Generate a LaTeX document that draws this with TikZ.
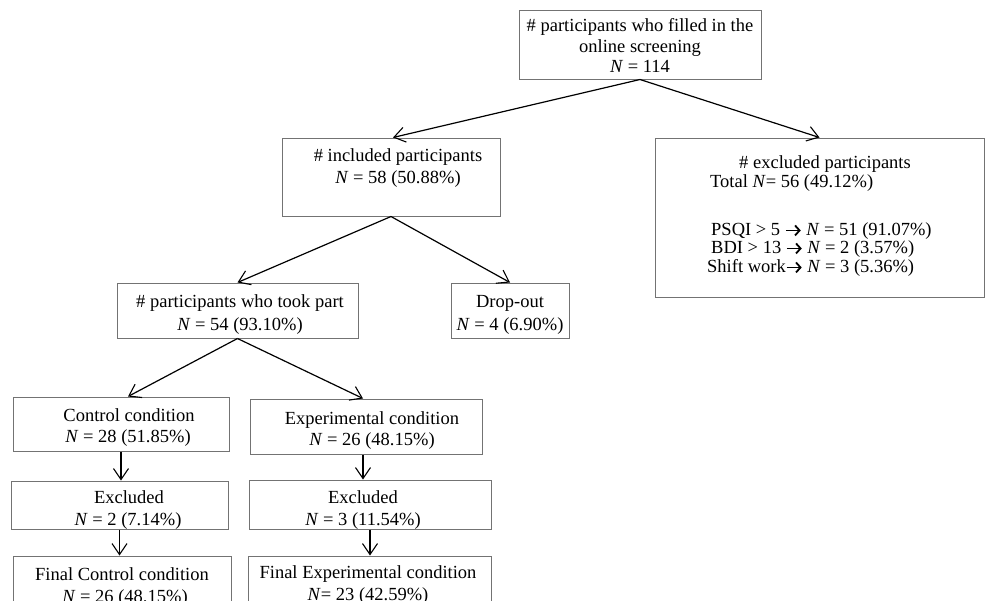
\documentclass[tikz,border=0pt]{standalone}
\usepackage{fontspec}
\setmainfont{Liberation Serif}
\usetikzlibrary{arrows.meta}
\newcommand{\myarrow}{\tikz[baseline=0pt,x=1pt,y=1pt]\draw[black,line width=1.8pt,-{Straight Barb[length=4.5pt,width=10pt,line width=1.8pt]}] (0,4.8) -- (15,4.8);}
\begin{document}
\begin{tikzpicture}[x=1pt,y=-1pt,
  box/.style={draw=black!55, line width=1pt, inner sep=0pt, fill=none},
  lbl/.style={inner sep=0pt, text height=12.5pt, text depth=0pt, font=\fontsize{18.5}{21.5}\selectfont},
  conn/.style={draw=black, line width=1.2pt, -{Straight Barb[length=11pt,width=15pt,line width=1.1pt]}}
]
\useasboundingbox (0,0) rectangle (985,600);
\clip (0,0) rectangle (985,600);
\fill[white] (0,0) rectangle (985,600);
% boxes
\node[box, minimum width=242pt, minimum height=69pt] (top) at (640,44.5) {};
\node[box, minimum width=218pt, minimum height=78pt] (incl) at (391,177) {};
\node[box, minimum width=329pt, minimum height=159pt] (excl) at (819.5,217.5) {};
\node[box, minimum width=241pt, minimum height=55pt] (took) at (237.5,310.5) {};
\node[box, minimum width=118pt, minimum height=55pt] (drop) at (510,310.5) {};
\node[box, minimum width=216pt, minimum height=54pt] (ctrl) at (121,424) {};
\node[box, minimum width=232pt, minimum height=55pt] (expc) at (366,426.5) {};
\node[box, minimum width=217pt, minimum height=48pt] (cexc) at (119.5,505) {};
\node[box, minimum width=242pt, minimum height=49pt] (eexc) at (370,504.5) {};
\node[box, minimum width=218pt, minimum height=64pt] (cfin) at (122,588) {};
\node[box, minimum width=243pt, minimum height=64pt] (efin) at (369.5,588) {};
% texts
\node[lbl] (t1a) at (640,25) {\# participants who filled in the};
\node[lbl] (t1b) at (640,46) {online screening};
\node[lbl] (t1c) at (640,66) {\textit{N} = 114};
\node[lbl] (t2a) at (398,155) {\# included participants};
\node[lbl] (t2b) at (398,177) {\textit{N} = 58 (50.88\%)};
\node[lbl] (t3a) at (825,162) {\# excluded participants};
\node[lbl, anchor=west] (t3b) at (710,181) {Total \textit{N}= 56 (49.12\%)};
\node[lbl, anchor=west] (t3c) at (711,229) {PSQI > 5 \myarrow\ \textit{N} = 51 (91.07\%)};
\node[lbl, anchor=west] (t3d) at (711,247) {BDI > 13 \myarrow\ \textit{N} = 2 (3.57\%)};
\node[lbl, anchor=west] (t3e) at (707,266) {Shift work\myarrow\ \textit{N} = 3 (5.36\%)};
\node[lbl] (t4a) at (240,301) {\# participants who took part};
\node[lbl] (t4b) at (240,324) {\textit{N} = 54 (93.10\%)};
\node[lbl] (t5a) at (510,301) {Drop-out};
\node[lbl] (t5b) at (510,324) {\textit{N} = 4 (6.90\%)};
\node[lbl] (t6a) at (129,415) {Control condition};
\node[lbl] (t6b) at (128,436) {\textit{N} = 28 (51.85\%)};
\node[lbl] (t7a) at (372,418) {Experimental condition};
\node[lbl] (t7b) at (372,439) {\textit{N} = 26 (48.15\%)};
\node[lbl] (t8a) at (129,497) {Excluded};
\node[lbl] (t8b) at (128,519) {\textit{N} = 2 (7.14\%)};
\node[lbl] (t9a) at (363,497) {Excluded};
\node[lbl] (t9b) at (363,519) {\textit{N} = 3 (11.54\%)};
\node[lbl] (t10a) at (122,574) {Final Control condition};
\node[lbl] (t10b) at (125,596) {\textit{N} = 26 (48.15\%)};
\node[lbl] (t11a) at (368,572) {Final Experimental condition};
\node[lbl] (t11b) at (368,594) {\textit{N}= 23 (42.59\%)};
% connectors
\draw[conn] (top.south) -- ([xshift=2pt]incl.north);
\draw[conn] (top.south) -- (excl.north);
\draw[conn] (incl.south) -- (took.north);
\draw[conn] (incl.south) -- (drop.north);
\draw[conn] (took.south) -- ([xshift=7pt]ctrl.north);
\draw[conn] (took.south) -- ([xshift=-3pt]expc.north);
\draw[conn] (ctrl.south) -- (ctrl.south |- cexc.north);
\draw[conn] ([xshift=-3pt]expc.south) -- ([xshift=-3pt]expc.south |- eexc.north);
\draw[conn] (cexc.south) -- (cexc.south |- cfin.north);
\draw[conn] (eexc.south) -- (eexc.south |- efin.north);
\end{tikzpicture}
\end{document}
